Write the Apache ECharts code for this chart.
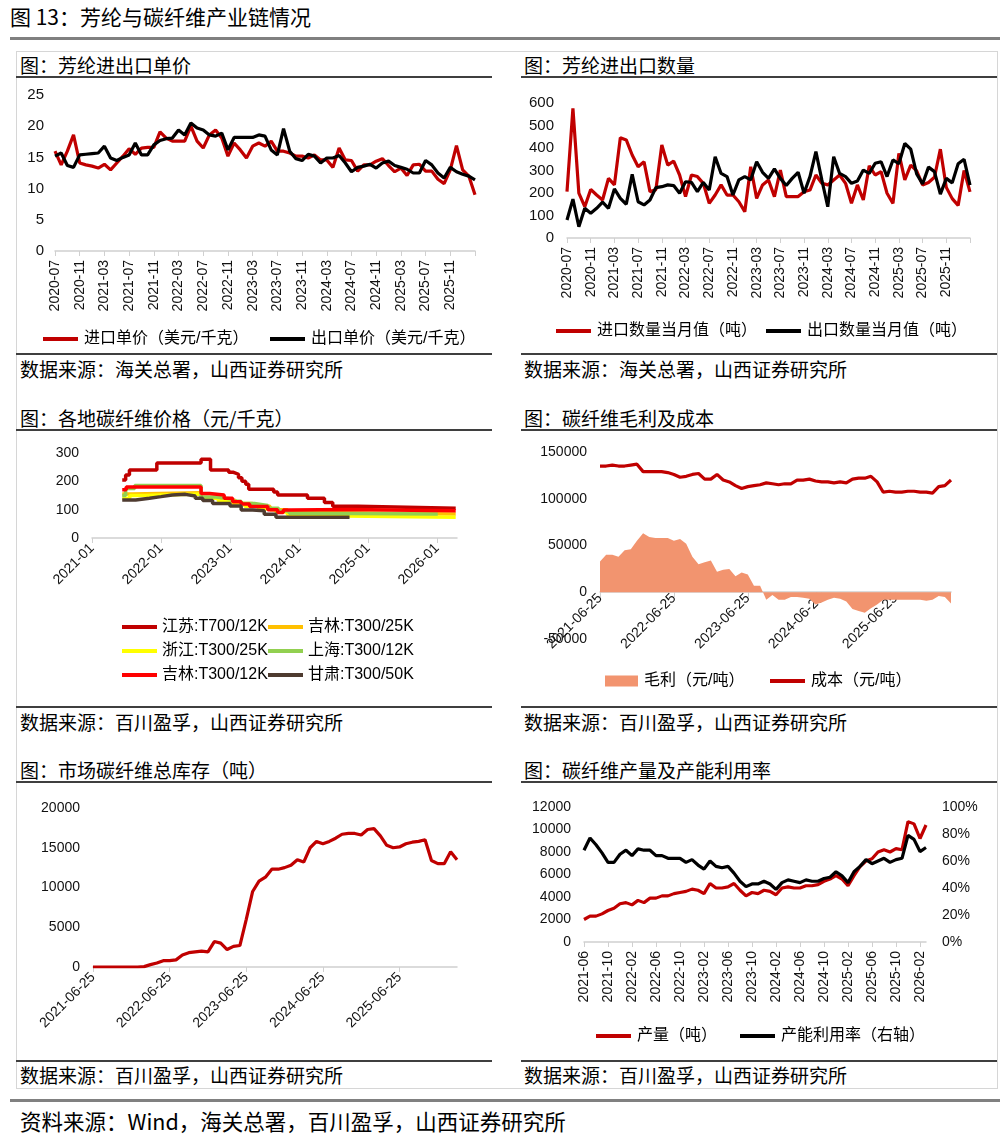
<!DOCTYPE html>
<html>
<head>
<meta charset="utf-8">
<script src="https://cdn.jsdelivr.net/npm/echarts@6/dist/echarts.min.js"></script>
<style>
body{margin:0;background:#fff;}
#page{position:relative;width:1007px;height:1141px;font-family:"Noto Sans CJK SC",sans-serif;color:#000;}
#main{position:absolute;left:0;top:0;width:1007px;height:1141px;}
.t{position:absolute;white-space:nowrap;font-size:19px;line-height:22px;}
.ln{position:absolute;height:2px;background:#3f3f3f;}
</style>
</head>
<body>
<div id="page">
  <div class="t" style="left:10px;top:5px;font-size:21px;">图 13：芳纶与碳纤维产业链情况</div>
  <div style="position:absolute;left:10px;top:37px;width:990px;height:3px;background:#808080;"></div>
  <div style="position:absolute;left:16px;top:51px;width:980px;height:1036px;border:1px solid #d6d6d6;"></div>

  <div class="t" style="left:20px;top:54px;">图：芳纶进出口单价</div>
  <div class="t" style="left:524px;top:54px;">图：芳纶进出口数量</div>
  <div class="ln" style="left:16px;top:76px;width:476px;"></div>
  <div class="ln" style="left:521px;top:76px;width:476px;"></div>
  <div class="ln" style="left:16px;top:353px;width:476px;"></div>
  <div class="ln" style="left:521px;top:353px;width:476px;"></div>
  <div class="t" style="left:20px;top:358px;">数据来源：海关总署，山西证券研究所</div>
  <div class="t" style="left:524px;top:358px;">数据来源：海关总署，山西证券研究所</div>

  <div class="t" style="left:20px;top:407px;">图：各地碳纤维价格（元/千克）</div>
  <div class="t" style="left:524px;top:407px;">图：碳纤维毛利及成本</div>
  <div class="ln" style="left:16px;top:429px;width:476px;"></div>
  <div class="ln" style="left:521px;top:429px;width:476px;"></div>
  <div class="ln" style="left:16px;top:706px;width:476px;"></div>
  <div class="ln" style="left:521px;top:706px;width:476px;"></div>
  <div class="t" style="left:20px;top:711px;">数据来源：百川盈孚，山西证券研究所</div>
  <div class="t" style="left:524px;top:711px;">数据来源：百川盈孚，山西证券研究所</div>

  <div class="t" style="left:20px;top:759px;">图：市场碳纤维总库存（吨）</div>
  <div class="t" style="left:524px;top:759px;">图：碳纤维产量及产能利用率</div>
  <div class="ln" style="left:16px;top:781px;width:476px;"></div>
  <div class="ln" style="left:521px;top:781px;width:476px;"></div>
  <div class="ln" style="left:16px;top:1060px;width:476px;"></div>
  <div class="ln" style="left:521px;top:1060px;width:476px;"></div>
  <div class="t" style="left:20px;top:1064px;">数据来源：百川盈孚，山西证券研究所</div>
  <div class="t" style="left:524px;top:1064px;">数据来源：百川盈孚，山西证券研究所</div>

  <div style="position:absolute;left:10px;top:1099px;width:990px;height:3px;background:#808080;"></div>
  <div class="t" style="left:20px;top:1110px;font-size:21.5px;">资料来源：Wind，海关总署，百川盈孚，山西证券研究所</div>

  <div id="main"></div>
</div>
<script>
// 月份序列
function monthSeq(y, m, n) {
    var out = [];
    for (var k = 0; k < n; k++) {
        var mm = m - 1 + k;
        var yy = y + Math.floor(mm / 12);
        var mo = mm % 12 + 1;
        out.push(yy + '-' + (mo < 10 ? '0' : '') + mo);
    }
    return out;
}

// 图1/图2 月份 2020-07 ~ 2026-03
var monthsAramid = monthSeq(2020, 7, 69);
// 芳纶进出口单价（美元/千克）
var importPrice = [16.0, 13.8, 16.0, 18.6, 14.1, 13.8, 13.6, 13.3, 13.9, 13.0,
    14.1, 15.2, 16.4, 15.5, 16.5, 16.6, 16.6, 19.1, 18.1, 17.6,
    17.6, 17.6, 20.0, 17.6, 16.5, 18.6, 19.4, 18.1, 15.2, 17.3,
    16.2, 14.9, 16.8, 17.3, 16.8, 17.6, 16.0, 16.0, 15.7, 15.2,
    15.2, 14.9, 15.4, 14.6, 14.6, 13.4, 16.5, 14.6, 14.5, 12.8,
    13.8, 13.8, 14.4, 14.8, 13.7, 12.7, 13.3, 12.1, 13.8, 13.9,
    12.8, 12.8, 11.5, 10.8, 13.0, 16.9, 13.0, 12.0, 9.0];
var exportPrice = [15.2, 15.7, 13.7, 13.4, 15.4, 15.5, 15.6, 15.7, 16.8, 14.9,
    14.5, 15.0, 15.4, 17.3, 15.4, 15.4, 17.0, 17.7, 18.0, 18.1,
    19.4, 18.6, 20.5, 19.7, 19.4, 18.6, 18.4, 18.9, 16.2, 18.2,
    18.2, 18.2, 18.2, 18.6, 18.4, 16.2, 15.4, 19.6, 16.0, 14.8,
    14.5, 15.5, 15.2, 14.1, 14.9, 14.9, 15.3, 14.1, 12.7, 13.4,
    13.6, 13.9, 13.3, 14.1, 14.4, 13.7, 13.4, 13.1, 12.5, 12.5,
    14.5, 13.8, 12.5, 11.7, 13.4, 12.7, 12.3, 12.0, 11.4];
// 芳纶进出口数量当月值（吨）
var importQty = [206, 576, 199, 139, 216, 191, 169, 265, 236, 446,
    436, 369, 317, 339, 206, 215, 413, 324, 342, 280,
    184, 280, 273, 243, 154, 191, 236, 191, 191, 161,
    117, 317, 176, 236, 258, 184, 302, 184, 184, 184,
    206, 213, 280, 243, 236, 258, 280, 243, 154, 236,
    169, 321, 280, 295, 199, 154, 376, 258, 324, 298,
    236, 247, 270, 395, 225, 175, 145, 300, 205];
var exportQty = [80, 173, 50, 132, 110, 132, 159, 132, 218, 176,
    150, 283, 161, 147, 169, 224, 228, 236, 233, 199,
    250, 247, 206, 247, 213, 361, 287, 273, 191, 258,
    273, 258, 339, 292, 265, 307, 265, 233, 265, 292,
    199, 273, 384, 258, 139, 361, 287, 273, 243, 253,
    302, 287, 332, 339, 273, 347, 330, 420, 395, 285,
    240, 315, 295, 195, 265, 245, 330, 350, 235];

// 各地碳纤维价格（元/千克），价格变动点
var jsT700 = [['2021-06-10', 205], ['2021-06-28', 222], ['2021-07-18', 240], ['2021-12-10', 265], ['2022-08-01', 278],
    ['2022-09-20', 240], ['2022-12-25', 232], ['2023-01-20', 225], ['2023-02-15', 213], ['2023-03-05', 200],
    ['2023-03-25', 190], ['2023-04-10', 172], ['2023-08-20', 162], ['2023-09-10', 152], ['2024-02-15', 140],
    ['2024-05-15', 125], ['2024-06-28', 112], ['2024-11-10', 105], ['2026-04-10', 105]];
var jlT300_25 = [['2021-06-10', 155], ['2021-08-01', 160], ['2022-08-01', 142], ['2022-11-01', 132], ['2023-02-01', 122],
    ['2023-05-01', 112], ['2023-08-01', 100], ['2023-11-01', 90], ['2024-03-01', 85], ['2026-04-10', 85]];
var zjT300_25 = [['2021-06-10', 140], ['2021-07-20', 150], ['2021-10-01', 155], ['2022-08-01', 140], ['2022-11-01', 130],
    ['2023-01-15', 122], ['2023-03-20', 112], ['2023-06-01', 102], ['2023-09-01', 92], ['2023-11-01', 82],
    ['2024-03-01', 78], ['2024-09-01', 73], ['2026-04-10', 73]];
var shT300_12 = [['2021-06-10', 150], ['2021-06-28', 175], ['2021-08-15', 185], ['2022-08-01', 145], ['2022-10-20', 138],
    ['2023-01-10', 130], ['2023-03-01', 122], ['2023-05-10', 115], ['2023-07-20', 105], ['2023-09-15', 95],
    ['2023-11-10', 87], ['2024-02-01', 85], ['2026-01-05', 85]];
var jlT300_12 = [['2021-06-10', 170], ['2021-07-01', 180], ['2022-08-01', 157], ['2022-09-15', 152], ['2022-12-01', 140],
    ['2023-01-15', 128], ['2023-03-01', 120], ['2023-04-15', 111], ['2023-07-20', 100], ['2023-09-10', 90],
    ['2023-10-10', 99], ['2023-11-20', 101], ['2024-09-20', 96], ['2026-04-10', 96]];
var gsT300_50 = [['2021-06-10', 134], ['2021-08-20', 140], ['2021-11-01', 146], ['2022-01-01', 152], ['2022-03-01', 154],
    ['2022-05-10', 148], ['2022-07-01', 140], ['2022-08-10', 132], ['2022-10-01', 122], ['2023-01-01', 113],
    ['2023-03-01', 99], ['2023-05-01', 96], ['2023-07-01', 84], ['2023-09-01', 73], ['2024-09-25', 72]];

// 图4/图5 日期
var dates4 = monthSeq(2021, 6, 58).map(function (s) { return s + '-25'; });
// 碳纤维毛利及成本（元/吨）
var grossProfit = [33000, 40000, 40000, 38000, 45000, 46000, 55000, 63000, 59000, 58000,
    58000, 58000, 55000, 57000, 52000, 38000, 30000, 32000, 34000, 22000,
    24000, 25000, 17000, 21000, 19000, 7000, 7000, -8000, -3000, -8000,
    -8000, -5000, -5000, -6000, -7000, -13000, -11000, -8000, -6000, -7000,
    -10000, -18000, -20000, -22000, -17000, -13000, -8000, -8000, -8000, -8000,
    -8000, -8000, -8000, -9000, -8000, -4000, -5000, -12000];
var cost = [135000, 135000, 136000, 135000, 135000, 136000, 137000, 129000, 129000, 129000,
    129000, 128000, 126000, 123000, 124000, 126000, 127000, 121000, 121000, 126000,
    120000, 118000, 114000, 111000, 113000, 114000, 115000, 117000, 116000, 115000,
    116000, 116000, 120000, 120000, 121000, 119000, 118000, 118000, 117000, 118000,
    117000, 121000, 122000, 122000, 124000, 118000, 107000, 108000, 107000, 107000,
    108000, 108000, 107000, 107000, 106000, 113000, 114000, 120000];
// 市场碳纤维总库存（吨）
var inventory = [0, 0, 0, 0, 0, 0, 0, 0, 50, 300,
    500, 800, 800, 900, 1500, 1800, 1900, 2000, 1900, 3200,
    3000, 2200, 2600, 2700, 6000, 9500, 10800, 11300, 12300, 12300,
    12500, 12800, 13500, 13200, 15000, 15800, 15500, 15800, 16200, 16700,
    16800, 16800, 16600, 17300, 17400, 16500, 15300, 15000, 15100, 15500,
    15700, 15800, 16000, 13400, 13000, 13000, 14500, 13500];

// 碳纤维产量（吨）及产能利用率（%）
var months6 = monthSeq(2021, 6, 58);
var output = [2000, 2300, 2300, 2500, 2800, 3000, 3400, 3500, 3300, 3700,
    3500, 3900, 3900, 4100, 4100, 4300, 4400, 4500, 4700, 4600,
    4300, 5200, 4800, 4800, 4900, 5200, 4600, 4100, 4400, 4300,
    4600, 4500, 4200, 4800, 4900, 4800, 4800, 5000, 5000, 5100,
    5400, 5600, 5900, 5600, 5000, 5900, 6700, 7200, 7400, 8000,
    8200, 8000, 8300, 8200, 10700, 10500, 9200, 10400];
var utilization = [68, 77, 72, 66, 59, 59, 65, 68, 64, 69,
    68, 68, 64, 64, 62, 62, 62, 59, 61, 57,
    54, 60, 56, 55, 56, 51, 45, 41, 43, 43,
    45, 43, 39, 44, 46, 45, 44, 46, 45, 45,
    47, 48, 52, 49, 44, 52, 56, 61, 58, 60,
    62, 59, 61, 62, 79, 76, 67, 70];

var RED = '#C00000';
var BLACK = '#000000';
var FONT = 'Liberation Sans, Noto Sans CJK SC, sans-serif';

function toYear(d) {
    var t = Date.UTC(+d.substr(0, 4), +d.substr(5, 2) - 1, +d.substr(8, 2));
    var y = +d.substr(0, 4);
    var s = Date.UTC(y, 0, 1), e = Date.UTC(y + 1, 0, 1);
    return y + (t - s) / (e - s);
}
function yearData(arr) {
    return arr.map(function (p) { return [toYear(p[0]), p[1]]; });
}
function plain(v) { return String(v); }

var labelStyle = { color: '#111', fontSize: 14, fontFamily: FONT };
var axisLineGray = { show: true, lineStyle: { color: '#d0d0d0', width: 1.5 } };

function catAxis(grid, data, every, rotate, margin) {
    return {
        type: 'category', gridIndex: grid, data: data, boundaryGap: false,
        axisLine: axisLineGray,
        axisTick: { show: true, interval: every - 1, length: 5, lineStyle: { color: '#d0d0d0' } },
        axisLabel: Object.assign({
            rotate: rotate, margin: margin == null ? 9 : margin,
            interval: function (i) { return i % every === 0 && i < data.length - 1; }
        }, labelStyle),
        splitLine: { show: false }
    };
}
function valAxis(grid, min, max, step, extra) {
    var a = {
        type: 'value', gridIndex: grid, min: min, max: max, interval: step,
        axisLine: { show: false }, axisTick: { show: false },
        splitLine: { show: false },
        axisLabel: Object.assign({ margin: 13, formatter: plain }, labelStyle)
    };
    return Object.assign(a, extra || {});
}
function lineSeries(name, x, y, data, color, w) {
    return {
        name: name, type: 'line', xAxisIndex: x, yAxisIndex: y, data: data,
        symbol: 'none', color: color, lineStyle: { width: w || 3.2, color: color }
    };
}
function oneLegend(name, left, top, w, h) {
    return {
        data: [name], left: left, top: top, icon: 'rect',
        itemWidth: w || 35, itemHeight: h || 4, itemGap: 5,
        textStyle: { fontSize: 16, color: '#000', fontFamily: FONT, padding: [0, 0, 0, 1] }
    };
}

// 毛利图的横轴放在0线上
var profitAxis = catAxis(3, dates4, 12, 45, 4);
profitAxis.axisLine = { show: true, onZero: false, lineStyle: { color: '#d0d0d0', width: 1.5 } };
profitAxis.offset = -47;

var myChart = echarts.init(document.getElementById('main'));
var options = {
    animation: false,
    grid: [
        { left: 55, top: 95, width: 420, height: 156 },
        { left: 567, top: 103, width: 403, height: 135 },
        { left: 92, top: 453, width: 365, height: 85 },
        { left: 600, top: 452, width: 351, height: 187 },
        { left: 93, top: 808, width: 364, height: 159 },
        { left: 584, top: 807, width: 342, height: 135 }
    ],
    xAxis: [
        catAxis(0, monthsAramid, 4, 90),
        catAxis(1, monthsAramid, 4, 90),
        {
            type: 'value', gridIndex: 2, min: 2021, max: 2026.29, interval: 1,
            axisLine: axisLineGray,
            axisTick: { show: true, length: 5, lineStyle: { color: '#d0d0d0' } },
            splitLine: { show: false },
            axisLabel: Object.assign({
                rotate: 45, margin: 8, showMaxLabel: false,
                formatter: function (v) { return Math.abs(v - Math.round(v)) < 1e-6 ? Math.round(v) + '-01' : ''; }
            }, labelStyle)
        },
        profitAxis,
        catAxis(4, dates4, 12, 45, 8),
        catAxis(5, months6, 4, 90)
    ],
    yAxis: [
        valAxis(0, 0, 25, 5, { axisLabel: Object.assign({ margin: 11, formatter: plain }, labelStyle, { fontSize: 15 }) }),
        valAxis(1, 0, 600, 100, { axisLabel: Object.assign({ margin: 13, formatter: plain }, labelStyle, { fontSize: 15 }) }),
        valAxis(2, 0, 300, 100),
        valAxis(3, -50000, 150000, 50000),
        valAxis(4, 0, 20000, 5000),
        valAxis(5, 0, 12000, 2000),
        valAxis(5, 0, 100, 20, {
            position: 'right',
            axisLabel: Object.assign({ margin: 16, formatter: '{value}%' }, labelStyle)
        })
    ],
    legend: [
        oneLegend('进口单价（美元/千克）', 38, 326),
        oneLegend('出口单价（美元/千克）', 265, 326),
        oneLegend('进口数量当月值（吨）', 551, 318),
        oneLegend('出口数量当月值（吨）', 761, 318),
        {
            data: ['江苏:T700/12K', '浙江:T300/25K', '吉林:T300/12K'], left: 117, top: 614,
            orient: 'vertical', icon: 'rect', itemWidth: 35, itemHeight: 4, itemGap: 8,
            textStyle: { fontSize: 16, color: '#000', fontFamily: FONT }
        },
        {
            data: ['吉林:T300/25K', '上海:T300/12K', '甘肃:T300/50K'], left: 263, top: 614,
            orient: 'vertical', icon: 'rect', itemWidth: 35, itemHeight: 4, itemGap: 8,
            textStyle: { fontSize: 16, color: '#000', fontFamily: FONT }
        },
        oneLegend('毛利（元/吨）', 600, 668, 33, 11),
        oneLegend('成本（元/吨）', 765, 668),
        oneLegend('产量（吨）', 591, 1023),
        oneLegend('产能利用率（右轴）', 735, 1023)
    ],
    series: [
        lineSeries('进口单价（美元/千克）', 0, 0, importPrice, RED),
        lineSeries('出口单价（美元/千克）', 0, 0, exportPrice, BLACK),
        lineSeries('进口数量当月值（吨）', 1, 1, importQty, RED),
        lineSeries('出口数量当月值（吨）', 1, 1, exportQty, BLACK),

        Object.assign(lineSeries('江苏:T700/12K', 2, 2, yearData(jsT700), '#C00000', 3.5), { step: 'end' }),
        Object.assign(lineSeries('吉林:T300/25K', 2, 2, yearData(jlT300_25), '#FFC000', 3.5), { step: 'end' }),
        Object.assign(lineSeries('浙江:T300/25K', 2, 2, yearData(zjT300_25), '#FFFF00', 3.5), { step: 'end' }),
        Object.assign(lineSeries('上海:T300/12K', 2, 2, yearData(shT300_12), '#92D050', 3.5), { step: 'end' }),
        Object.assign(lineSeries('吉林:T300/12K', 2, 2, yearData(jlT300_12), '#FF0000', 3.5), { step: 'end' }),
        Object.assign(lineSeries('甘肃:T300/50K', 2, 2, yearData(gsT300_50), '#4E3B30', 3.5), { step: 'end' }),

        {
            name: '毛利（元/吨）', type: 'line', xAxisIndex: 3, yAxisIndex: 3, data: grossProfit,
            symbol: 'none', color: '#F2946F', lineStyle: { width: 0 },
            areaStyle: { color: '#F2946F', opacity: 1 }
        },
        lineSeries('成本（元/吨）', 3, 3, cost, RED),

        lineSeries('库存', 4, 4, inventory, RED),

        lineSeries('产量（吨）', 5, 5, output, RED),
        lineSeries('产能利用率（右轴）', 5, 6, utilization, BLACK)
    ]
};
myChart.setOption(options);
</script>
</body>
</html>
